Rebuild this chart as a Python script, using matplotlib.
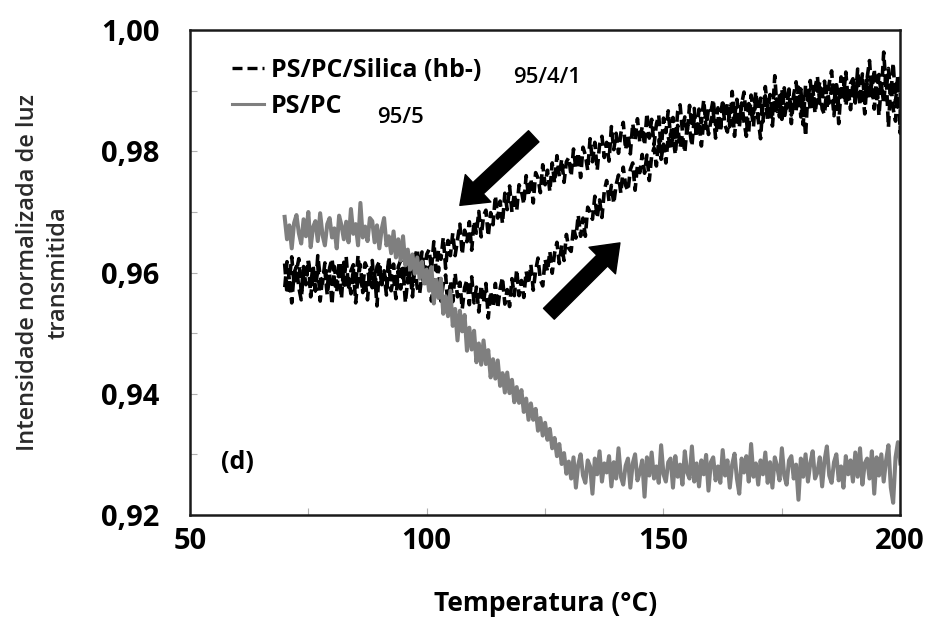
import numpy as np
import matplotlib
matplotlib.use("Agg")
import matplotlib.pyplot as plt
from matplotlib.lines import Line2D

plt.rcParams['font.family'] = ['Open Sans', 'DejaVu Sans']

# temperatura (°C), passo de 0,5
temp = np.arange(70, 200.01, 0.5)

# PS/PC 95/5 (cinza)
ps_pc = [
    0.9692, 0.9655, 0.9678, 0.9640, 0.9682, 0.9695, 0.9665, 0.9648, 0.9688, 0.9660,
    0.9700, 0.9642, 0.9675, 0.9685, 0.9652, 0.9698, 0.9662, 0.9645, 0.9680, 0.9690,
    0.9658, 0.9673, 0.9640, 0.9694, 0.9678, 0.9655, 0.9684, 0.9650, 0.9705, 0.9664,
    0.9680, 0.9645, 0.9715, 0.9658, 0.9676, 0.9652, 0.9690,
    0.9685, 0.9650, 0.9678, 0.9640, 0.9672, 0.9690, 0.9645, 0.9660, 0.9632, 0.9668,
    0.9625, 0.9655, 0.9620, 0.9660, 0.9612, 0.9638, 0.9605, 0.9630, 0.9598, 0.9625,
    0.9590, 0.9618, 0.9582, 0.9605,
    0.9570, 0.9609, 0.9549, 0.9588, 0.9558, 0.9590, 0.9532, 0.9561, 0.9528, 0.9570,
    0.9512, 0.9540, 0.9488, 0.9537, 0.9503, 0.9530, 0.9471, 0.9509, 0.9473, 0.9504,
    0.9452, 0.9483, 0.9448, 0.9488, 0.9449, 0.9472, 0.9427, 0.9457, 0.9425, 0.9455,
    0.9413, 0.9434, 0.9402, 0.9435, 0.9401, 0.9423, 0.9386, 0.9411, 0.9385, 0.9406,
    0.9370, 0.9392, 0.9357, 0.9384, 0.9357, 0.9375, 0.9339, 0.9360, 0.9331, 0.9352,
    0.9324, 0.9342, 0.9310, 0.9327, 0.9297, 0.9317, 0.9284, 0.9302, 0.9268, 0.9288,
    0.9260, 0.9295, 0.9245, 0.9283, 0.9300, 0.9265, 0.9253, 0.9290, 0.9280, 0.9235,
    0.9293, 0.9267, 0.9305, 0.9255, 0.9285, 0.9270, 0.9297, 0.9247, 0.9287, 0.9260,
    0.9310, 0.9263, 0.9250, 0.9281, 0.9293, 0.9245, 0.9285, 0.9300, 0.9257, 0.9270,
    0.9290, 0.9230, 0.9295, 0.9265, 0.9303, 0.9260, 0.9280, 0.9253, 0.9315, 0.9267,
    0.9255, 0.9287, 0.9293, 0.9245, 0.9297, 0.9263, 0.9283, 0.9250, 0.9305, 0.9270,
    0.9260, 0.9313, 0.9255, 0.9285, 0.9247, 0.9290, 0.9267, 0.9299, 0.9240, 0.9287,
    0.9295, 0.9257, 0.9280, 0.9253, 0.9307, 0.9265, 0.9290, 0.9245, 0.9283, 0.9301,
    0.9260, 0.9235, 0.9293, 0.9270, 0.9297, 0.9255, 0.9317, 0.9263, 0.9285, 0.9250,
    0.9290, 0.9267, 0.9303, 0.9253, 0.9287, 0.9245, 0.9295, 0.9280, 0.9257, 0.9310,
    0.9265, 0.9250, 0.9290, 0.9297, 0.9260, 0.9283, 0.9225, 0.9293, 0.9263, 0.9300,
    0.9255, 0.9285, 0.9305, 0.9260, 0.9270, 0.9295, 0.9247, 0.9290, 0.9313, 0.9265,
    0.9253, 0.9287, 0.9300, 0.9257, 0.9280, 0.9245, 0.9297, 0.9267, 0.9290, 0.9255,
    0.9303, 0.9263, 0.9310, 0.9250, 0.9285, 0.9293, 0.9260, 0.9305, 0.9235, 0.9295,
    0.9265, 0.9300, 0.9255, 0.9290, 0.9315, 0.9245, 0.9220, 0.9295, 0.9320, 0.9285,
]

# PS/PC/Silica (hb-) 95/4/1 - aquecimento (ramo inferior)
silica_heat = [
    0.9615, 0.9565, 0.9590, 0.9550, 0.9600, 0.9610, 0.9575, 0.9555, 0.9605, 0.9580,
    0.9620, 0.9560, 0.9595, 0.9570, 0.9613, 0.9553, 0.9593, 0.9603, 0.9563, 0.9597,
    0.9547, 0.9610, 0.9577, 0.9600, 0.9557, 0.9617, 0.9573, 0.9590, 0.9565, 0.9607,
    0.9550, 0.9595, 0.9613, 0.9567, 0.9587, 0.9555, 0.9605, 0.9575, 0.9600, 0.9545,
    0.9610, 0.9580, 0.9597, 0.9563, 0.9615, 0.9570, 0.9593, 0.9557, 0.9603, 0.9573,
    0.9607, 0.9550, 0.9590, 0.9600, 0.9560, 0.9613, 0.9575, 0.9565, 0.9597, 0.9577,
    0.9605,
    0.9609, 0.9553, 0.9592, 0.9565, 0.9609, 0.9553, 0.9582, 0.9596, 0.9540, 0.9586,
    0.9552, 0.9599, 0.9560, 0.9584, 0.9540, 0.9575, 0.9588, 0.9547, 0.9593, 0.9550,
    0.9576, 0.9535, 0.9579, 0.9550, 0.9582, 0.9525, 0.9569, 0.9543, 0.9582, 0.9541,
    0.9573, 0.9592, 0.9548, 0.9572, 0.9544, 0.9590, 0.9562, 0.9605, 0.9562, 0.9587,
    0.9559, 0.9602, 0.9581, 0.9613, 0.9571, 0.9603, 0.9624, 0.9588, 0.9578, 0.9622,
    0.9602, 0.9635, 0.9599, 0.9632, 0.9650, 0.9615, 0.9645, 0.9620, 0.9663, 0.9640,
    0.9635, 0.9675, 0.9657, 0.9695, 0.9660, 0.9690, 0.9660, 0.9708, 0.9700, 0.9688,
    0.9726, 0.9690, 0.9720, 0.9691, 0.9735, 0.9752, 0.9718, 0.9744, 0.9714, 0.9745,
    0.9761, 0.9731, 0.9774, 0.9744, 0.9735, 0.9770, 0.9781, 0.9736, 0.9777, 0.9765,
    0.9795, 0.9764, 0.9794, 0.9752, 0.9793, 0.9806, 0.9776, 0.9819, 0.9787, 0.9812,
    0.9781, 0.9825, 0.9803, 0.9825, 0.9795, 0.9843, 0.9806, 0.9828, 0.9798, 0.9843,
    0.9837, 0.9809, 0.9856, 0.9825, 0.9850, 0.9809, 0.9851, 0.9861, 0.9828, 0.9850,
    0.9866, 0.9822, 0.9858, 0.9834, 0.9880, 0.9843, 0.9832, 0.9868, 0.9879, 0.9825,
    0.9868, 0.9839, 0.9880, 0.9849, 0.9825, 0.9879, 0.9870, 0.9841, 0.9892, 0.9853,
    0.9821, 0.9881, 0.9892, 0.9850, 0.9877, 0.9842, 0.9890, 0.9883, 0.9857, 0.9903,
    0.9853, 0.9879, 0.9897, 0.9846, 0.9891, 0.9867, 0.9906, 0.9857, 0.9889, 0.9825,
    0.9899, 0.9870, 0.9907, 0.9863, 0.9892, 0.9915, 0.9870, 0.9861, 0.9907, 0.9880,
    0.9903, 0.9859, 0.9912, 0.9846, 0.9903, 0.9920, 0.9875, 0.9903, 0.9869, 0.9914,
    0.9880, 0.9926, 0.9876, 0.9904, 0.9862, 0.9919, 0.9888, 0.9913, 0.9870, 0.9924,
    0.9859, 0.9911, 0.9879, 0.9928, 0.9840, 0.9915, 0.9870, 0.9850, 0.9920, 0.9830,
]

# PS/PC/Silica (hb-) 95/4/1 - resfriamento (ramo superior), em ordem crescente de T
silica_cool = [
    0.9573, 0.9618, 0.9588, 0.9626, 0.9580, 0.9603, 0.9623, 0.9568, 0.9610, 0.9590,
    0.9620, 0.9578, 0.9613, 0.9570, 0.9628, 0.9593, 0.9583, 0.9616, 0.9576, 0.9608,
    0.9623, 0.9586, 0.9568, 0.9618, 0.9606, 0.9580, 0.9626, 0.9573, 0.9603, 0.9613,
    0.9578, 0.9628, 0.9588, 0.9573, 0.9616, 0.9606, 0.9583, 0.9620, 0.9570, 0.9610,
    0.9618, 0.9580, 0.9603, 0.9576, 0.9626,
    0.9588, 0.9614, 0.9574, 0.9610, 0.9620, 0.9585,
    0.9627, 0.9583, 0.9613, 0.9578, 0.9626, 0.9639, 0.9599, 0.9634, 0.9596, 0.9630,
    0.9638, 0.9605, 0.9651, 0.9603, 0.9638, 0.9622, 0.9658, 0.9607, 0.9653, 0.9628,
    0.9665, 0.9628, 0.9654, 0.9680, 0.9630, 0.9670, 0.9651, 0.9684, 0.9637, 0.9685,
    0.9665, 0.9701, 0.9659, 0.9694, 0.9703, 0.9660, 0.9699, 0.9679, 0.9727, 0.9690,
    0.9718, 0.9681, 0.9731, 0.9704, 0.9743, 0.9700, 0.9731, 0.9702, 0.9745, 0.9735,
    0.9713, 0.9760, 0.9726, 0.9755, 0.9715, 0.9765, 0.9756, 0.9732, 0.9778, 0.9745,
    0.9769, 0.9734, 0.9781, 0.9748, 0.9793, 0.9759, 0.9787, 0.9749, 0.9783, 0.9790,
    0.9759, 0.9804, 0.9771, 0.9798, 0.9757, 0.9807, 0.9794, 0.9769, 0.9821, 0.9783,
    0.9815, 0.9769, 0.9811, 0.9825, 0.9790, 0.9815, 0.9784, 0.9841, 0.9803, 0.9830,
    0.9797, 0.9830, 0.9848, 0.9803, 0.9828, 0.9796, 0.9846, 0.9819, 0.9854, 0.9815,
    0.9841, 0.9810, 0.9863, 0.9822, 0.9853, 0.9811, 0.9845, 0.9860, 0.9799, 0.9855,
    0.9831, 0.9867, 0.9825, 0.9856, 0.9817, 0.9866, 0.9877, 0.9833, 0.9857, 0.9828,
    0.9876, 0.9840, 0.9871, 0.9824, 0.9870, 0.9848, 0.9885, 0.9838, 0.9871, 0.9865,
    0.9886, 0.9844, 0.9872, 0.9833, 0.9884, 0.9856, 0.9880, 0.9841, 0.9899, 0.9856,
    0.9886, 0.9847, 0.9878, 0.9898, 0.9856, 0.9832, 0.9893, 0.9863, 0.9899, 0.9855,
    0.9888, 0.9849, 0.9907, 0.9870, 0.9894, 0.9857, 0.9925, 0.9866, 0.9892, 0.9853,
    0.9905, 0.9872, 0.9903, 0.9860, 0.9894, 0.9915, 0.9870, 0.9903, 0.9844, 0.9910,
    0.9881, 0.9917, 0.9870, 0.9905, 0.9924, 0.9879, 0.9887, 0.9916, 0.9869, 0.9913,
    0.9933, 0.9881, 0.9910, 0.9875, 0.9923, 0.9890, 0.9931, 0.9883, 0.9912, 0.9920,
    0.9884, 0.9936, 0.9892, 0.9928, 0.9880, 0.9921, 0.9950, 0.9892, 0.9936, 0.9882,
    0.9927, 0.9893, 0.9964, 0.9904, 0.9937, 0.9891, 0.9946, 0.9882, 0.9927, 0.9903,
]

x_ticks = [50, 100, 150, 200]
y_ticks = [0.92, 0.94, 0.96, 0.98, 1.00]
y_labels = ['0,92', '0,94', '0,96', '0,98', '1,00']

fig = plt.figure(figsize=(9.31, 6.31), dpi=100)
ax = fig.add_axes([0.204, 0.184, 0.763, 0.768])

# ciclo completo: aquecimento 70 -> 200 e resfriamento 200 -> 70
x_cycle = np.concatenate([temp, temp[::-1]])
y_cycle = np.concatenate([silica_heat, silica_cool[::-1]])
ax.plot(x_cycle, y_cycle, color='black', lw=2.6, ls=(0, (3, 1.5)))
ax.plot(temp, ps_pc, color='#7f7f7f', lw=2.9)

ax.set_xlim(50, 200)
ax.set_ylim(0.92, 1.00)
ax.set_xticks(x_ticks)
ax.set_xticks([75, 125, 175], minor=True)
ax.set_yticks(y_ticks, labels=y_labels)
ax.set_yticks([0.93, 0.95, 0.97, 0.99], minor=True)
ax.tick_params(which='both', direction='in', length=5, width=0.8, color='#b0b0b0')
ax.tick_params(axis='x', which='major', labelsize=21, pad=9)
ax.tick_params(axis='y', which='major', labelsize=21, pad=22)
for lab in ax.get_xticklabels() + ax.get_yticklabels():
    lab.set_fontweight('bold')
for sp in ax.spines.values():
    sp.set_linewidth(1.8)
    sp.set_color('#1a1a1a')

ax.set_xlabel('Temperatura (°C)', fontsize=19, fontweight='bold', labelpad=24)
ax.set_ylabel('Intensidade normalizada de luz\ntransmitida', fontsize=17,
              fontweight='semibold', color='#2a2a2a', labelpad=22, linespacing=1.35)

handles = [Line2D([], [], color='black', lw=2.4, ls=(0, (3, 1.5))),
           Line2D([], [], color='#7f7f7f', lw=2.2)]
leg = ax.legend(handles, ['PS/PC/Silica (hb-)', 'PS/PC'], loc='upper left',
                bbox_to_anchor=(0.028, 0.99), frameon=False, handlelength=1.25,
                handletextpad=0.3, labelspacing=0.45,
                prop={'weight': 'bold', 'size': 18})
ax.text(0.455, 0.902, '95/4/1', transform=ax.transAxes, fontsize=16,
        fontweight='semibold', va='center')
ax.text(0.263, 0.82, '95/5', transform=ax.transAxes, fontsize=16,
        fontweight='semibold', va='center')

ax.text(60, 0.9287, '(d)', fontsize=18, fontweight='bold', ha='center', va='center')

arrow_style = 'simple,head_length=0.9,head_width=1.35,tail_width=0.55'
ax.annotate('', xy=(107.0, 0.9711), xytext=(122.6, 0.9825),
            arrowprops=dict(arrowstyle=arrow_style, color='black',
                            mutation_scale=20, shrinkA=0, shrinkB=0))
ax.annotate('', xy=(140.8, 0.9649), xytext=(125.8, 0.9532),
            arrowprops=dict(arrowstyle=arrow_style, color='black',
                            mutation_scale=20, shrinkA=0, shrinkB=0))

plt.savefig('out.png', dpi=100)
